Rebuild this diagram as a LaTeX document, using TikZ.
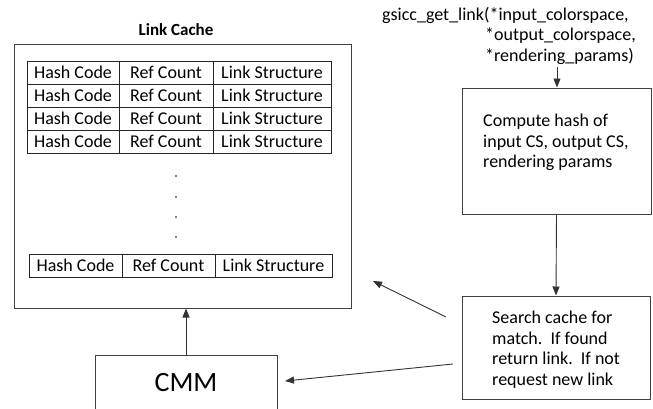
\documentclass[tikz,border=0pt]{standalone}
\usepackage{fontspec}
\setmainfont{Carlito}
\usetikzlibrary{arrows.meta}
\begin{document}
\begin{tikzpicture}[x=1pt,y=-1pt,
  every node/.style={font=\fontsize{18}{20.5}\selectfont},
  boxline/.style={draw=black!75, line width=1pt},
  cell/.style={draw=black!85, line width=0.9pt, inner sep=0pt},
  arr/.style={draw=black!80, line width=0.9pt, -{Triangle[length=9pt,width=7pt]}},
  txt/.style={inner sep=0pt, align=left, anchor=north west}]
\useasboundingbox (0,0) rectangle (653,408);
% title
\node[font=\fontsize{17}{20}\selectfont\bfseries] (title) at (176,30) {Link Cache};
% cache box
\node[boxline, minimum width=337pt, minimum height=264pt, inner sep=0pt] (cache) at (182.5,176) {};
% table rows
\foreach \i in {0,1,2,3}{
  \pgfmathsetmacro{\yt}{61+23*\i}
  \node[cell, minimum width=92pt, minimum height=23pt] (h\i) at (73,\yt+11.5) {Hash Code};
  \node[cell, minimum width=94pt, minimum height=23pt] (r\i) at (166,\yt+11.5) {Ref Count};
  \node[cell, minimum width=118pt, minimum height=23pt] (l\i) at (272,\yt+11.5) {Link Structure};
}
% dots
\foreach \yy [count=\k] in {176,197,217,237}{
  \node[circle, fill=black, inner sep=0pt, minimum size=1.8pt] (d\k) at (176,\yy) {};
}
% last row
\node[cell, minimum width=93pt, minimum height=23pt] (hn) at (75.5,265.5) {Hash Code};
\node[cell, minimum width=93pt, minimum height=23pt] (rn) at (168.5,265.5) {Ref Count};
\node[cell, minimum width=117pt, minimum height=23pt] (ln) at (273.5,265.5) {Link Structure};
% function call
\node[txt] (call) at (382,7) {gsicc\_get\_link(*input\_colorspace,\\
\hspace*{103pt}*output\_colorspace,\\
\hspace*{103pt}*rendering\_params)};
% compute box
\node[boxline, minimum width=189pt, minimum height=126pt, inner sep=0pt] (comp) at (556.5,151) {};
\node[txt] (comptxt) at (483,114) {Compute hash of\\input CS, output CS,\\rendering params};
% search box
\node[boxline, minimum width=188pt, minimum height=103pt, inner sep=0pt] (search) at (556,347.5) {};
\node[txt] (searchtxt) at (492,311) {Search cache for\\match.\ \ If found\\return link.\ \ If not\\request new link};
% CMM box
\node[boxline, minimum width=182pt, minimum height=55pt, inner sep=0pt, font=\fontsize{28}{30}\selectfont] (cmm) at (186,382.5) {CMM};
% connectors
\coordinate (callend) at (557,67);
\draw[arr] (callend) -- (comp.north -| callend);
\draw[arr] (comp.south) -- (search.north);
\coordinate (s1) at (446,317);
\coordinate (c1) at (373,281);
\draw[arr] (s1) -- (c1);
\coordinate (s2) at (453,364);
\coordinate (m1) at (285,381);
\draw[arr] (s2) -- (m1);
\draw[arr] (cmm.north -| 186,0) -- (cache.south -| 186,0);
\end{tikzpicture}
\end{document}
